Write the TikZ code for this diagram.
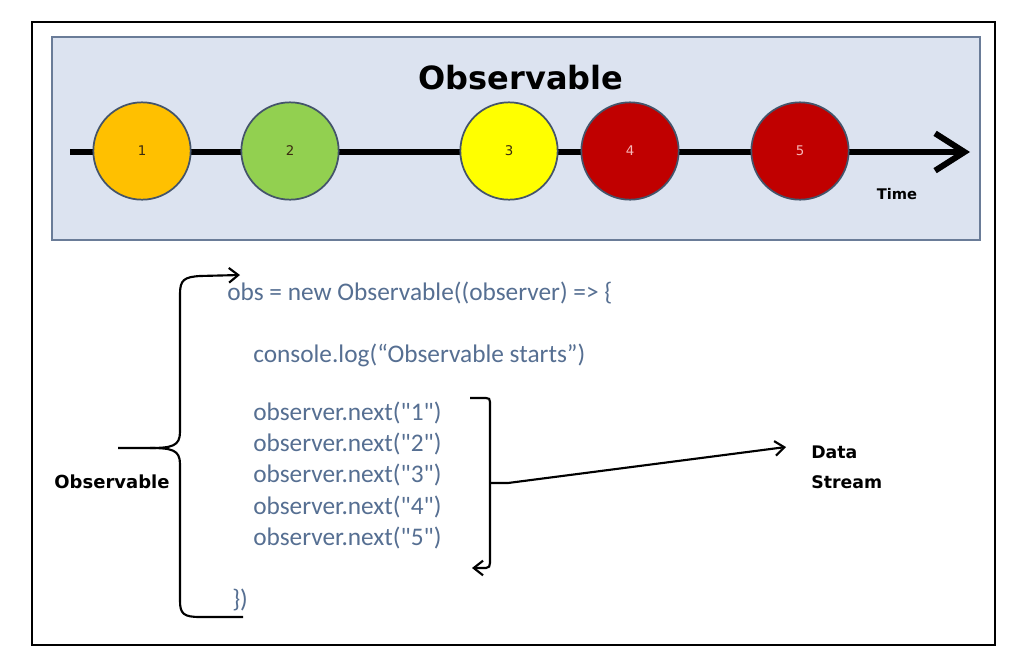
\documentclass[tikz,border=0pt]{standalone}
\usepackage{fontspec}
\setmainfont{Carlito}
\newfontfamily\codefont[Ligatures=TeXOff]{Carlito}
\newfontfamily\labfont{DejaVu Sans}
\usetikzlibrary{arrows.meta}
\definecolor{panelfill}{HTML}{DCE3F0}
\definecolor{panelline}{HTML}{6A7C98}
\definecolor{codeblue}{HTML}{566F92}
\definecolor{cone}{HTML}{FFC000}
\definecolor{ctwo}{HTML}{92D050}
\definecolor{cthree}{HTML}{FFFF00}
\definecolor{cred}{HTML}{C00000}
\definecolor{cborder}{HTML}{44546A}
\definecolor{lightnum}{HTML}{F6B8B8}
\definecolor{darknum}{HTML}{3A2A10}
\tikzset{
  event/.style={circle, draw=cborder, line width=1.3pt, minimum size=73pt, inner sep=0pt,
                text=darknum, font=\labfont\fontsize{10}{12}\selectfont},
  codeline/.style={anchor=west, inner sep=0pt, text=codeblue, font=\codefont\fontsize{19}{23}\selectfont},
  boldlabel/.style={inner sep=0pt, font=\labfont\bfseries\fontsize{13.5}{16}\selectfont},
  conn/.style={line width=1.6pt, black},
  tip/.style={-{Straight Barb[length=7pt,width=11pt,line width=1.6pt]}}
}
\begin{document}
\begin{tikzpicture}[x=0.75pt,y=-0.75pt]
\useasboundingbox (0,0) rectangle (1025,664);
\fill[white] (0,0) rectangle (1025,664);
% outer frame
\draw[black, line width=2.2pt] (32,22) rectangle (995,645);
% panel
\draw[fill=panelfill, draw=panelline, line width=1.2pt] (52,37) rectangle (980,240);
\node[inner sep=0pt, font=\labfont\bfseries\fontsize{24}{28}\selectfont] (title) at (521,78) {Observable};
% timeline
\coordinate (tstart) at (70,152);
\coordinate (tend) at (970,152);
\draw[line width=5.2pt, -{Straight Barb[length=22pt,width=28pt,line width=4.5pt]}] (tstart) -- (tend);
\node[event, fill=cone] (e1) at (142,151) {1};
\node[event, fill=ctwo] (e2) at (290,151) {2};
\node[event, fill=cthree] (e3) at (509,151) {3};
\node[event, fill=cred, text=lightnum] (e4) at (630,151) {4};
\node[event, fill=cred, text=lightnum] (e5) at (800,151) {5};
\node[boldlabel, font=\labfont\bfseries\fontsize{11}{14}\selectfont] (time) at (897,194) {Time};
% code
\node[codeline] (l0) at (227,293) {obs = new Observable((observer) => \{};
\node[codeline] (l1) at (253,355) {console.log(“Observable starts”)};
\node[codeline] (n1) at (253,413) {observer.next("1")};
\node[codeline] (n2) at (253,444) {observer.next("2")};
\node[codeline] (n3) at (253,475) {observer.next("3")};
\node[codeline] (n4) at (253,507) {observer.next("4")};
\node[codeline] (n5) at (253,538) {observer.next("5")};
\node[codeline] (lend) at (232,600) {\})};
% labels
\node[boldlabel] (obslabel) at (112,482) {Observable};
\node[boldlabel, anchor=west, align=left, font=\labfont\bfseries\fontsize{13}{22.5}\selectfont] (data) at (811,467) {Data\\Stream};
% left brace
\coordinate (btip) at (118,448);
\coordinate (btop) at (240,275);
\coordinate (bbot) at (243,617);
\draw[conn, tip] (btip) -- (150,448) .. controls (172,448) and (180,446) .. (180,432)
   -- (180,294) .. controls (180,280) and (184,277) .. (200,276) -- (btop);
\draw[conn] (btip) ++(32,0) .. controls (172,448) and (180,450) .. (180,464)
   -- (180,601) .. controls (180,614) and (184,617) .. (200,617) -- (bbot);
% right bracket
\coordinate (rtop) at (470,398);
\coordinate (rmid) at (490,483);
\coordinate (rbot) at (472,568);
\coordinate (dstip) at (786,447);
\draw[conn, tip] (rtop) -- (486,398) .. controls (489,398) and (490,399) .. (490,402)
   -- (490,563) .. controls (490,566) and (489,568) .. (486,568) -- (rbot);
\draw[conn, tip] (rmid) -- (508,483) -- (dstip);
\end{tikzpicture}
\end{document}
